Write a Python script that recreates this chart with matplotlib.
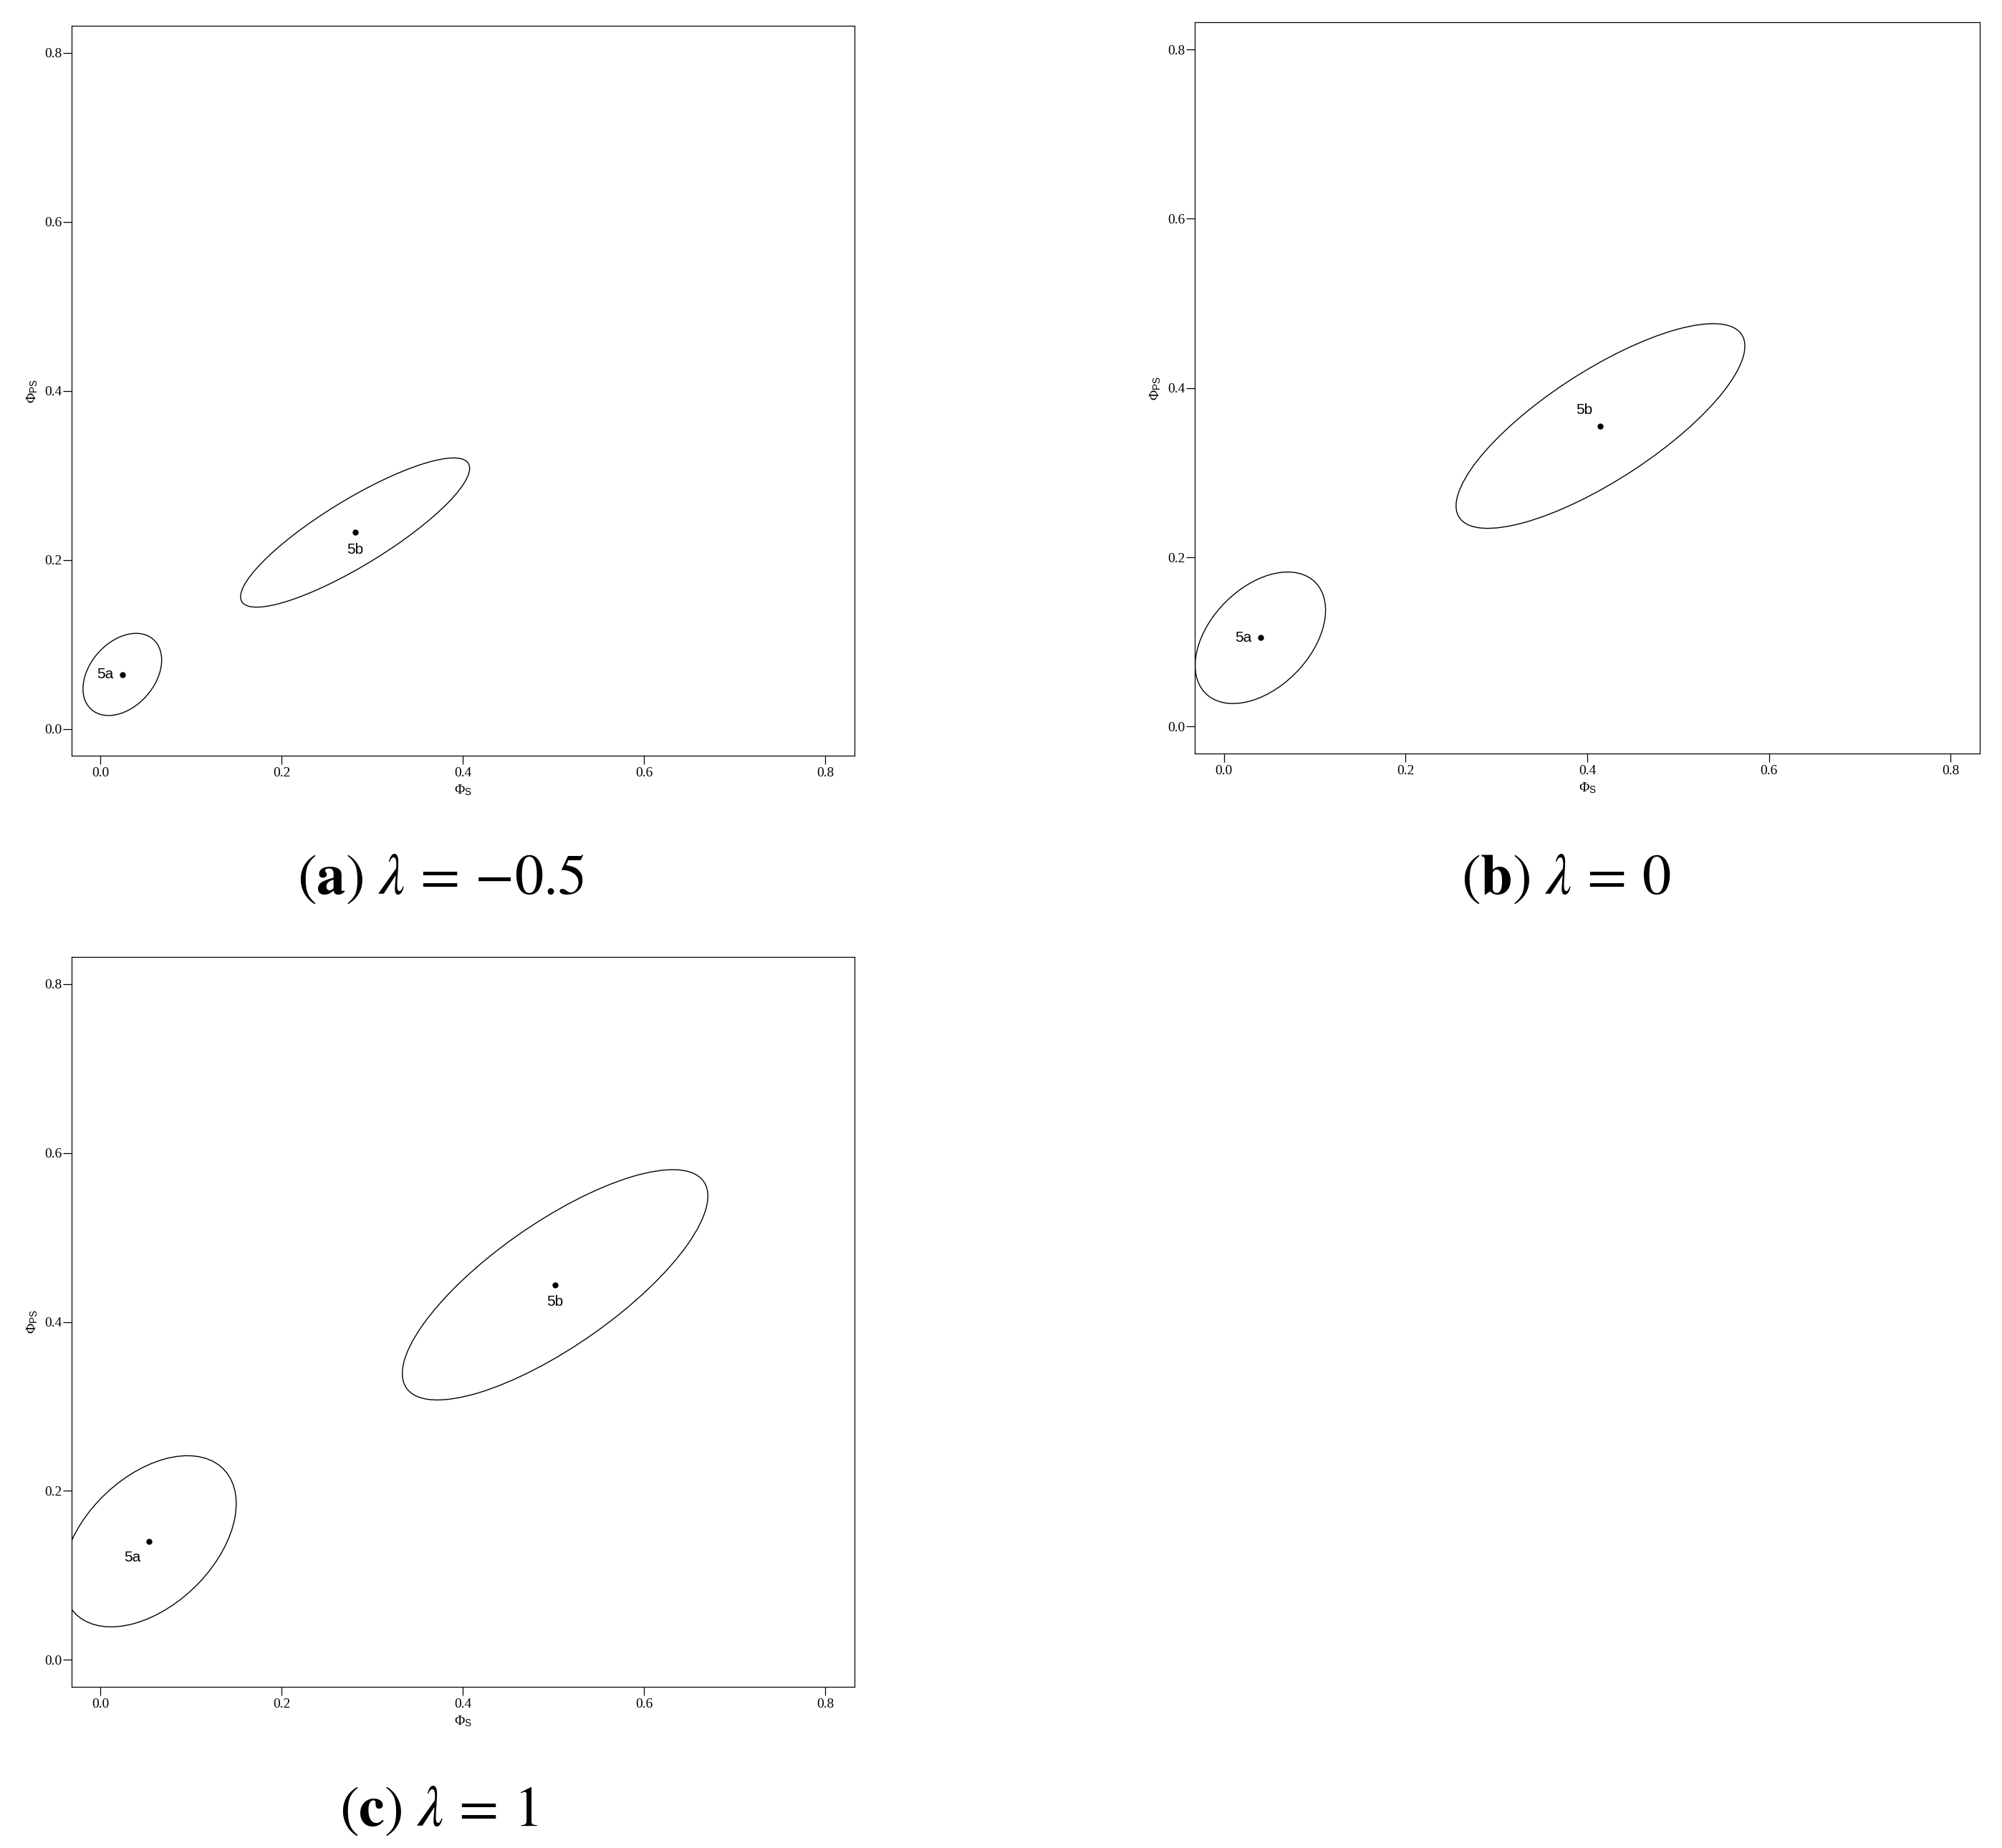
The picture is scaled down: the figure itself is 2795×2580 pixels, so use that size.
import numpy as np
import matplotlib
matplotlib.use("Agg")
import matplotlib.pyplot as plt
from matplotlib.patches import Ellipse

# ---------------- data ----------------
panel_tags = ["a", "b", "c"]
lambda_values = ["-0.5", "0", "1"]
point_labels = ["5a", "5b"]

# centres (Phi_S, Phi_PS) of each point / ellipse, per panel: [5a, 5b]
phi_s = [[0.0241, 0.2810], [0.0400, 0.4145], [0.0539, 0.5017]]
phi_ps = [[0.0644, 0.2323], [0.1050, 0.3552], [0.1403, 0.4439]]
# ellipse half extents along Phi_S and Phi_PS, and correlation
half_s = [[0.0434, 0.1264], [0.0718, 0.1590], [0.0959, 0.1686]]
half_ps = [[0.0486, 0.0883], [0.0777, 0.1209], [0.1013, 0.1363]]
corr = [[0.35, 0.86], [0.42, 0.78], [0.44, 0.77]]

tick_values = [0.0, 0.2, 0.4, 0.6, 0.8]
tick_labels = ["0.0", "0.2", "0.4", "0.6", "0.8"]
axis_range = (0.0, 0.8)

# ---------------- style / layout ----------------
W, H, DPI = 2795, 2580, 100
plt.rcParams["mathtext.fontset"] = "custom"
plt.rcParams["mathtext.rm"] = "Liberation Serif"
plt.rcParams["mathtext.it"] = "Liberation Serif:italic"
plt.rcParams["mathtext.bf"] = "Liberation Serif:bold"
plt.rcParams["mathtext.sf"] = "Liberation Sans"

fig = plt.figure(figsize=(W / DPI, H / DPI), dpi=DPI)

# axes rectangles in pixel coordinates (left, top, right, bottom)
rects_px = [(99.8, 36.0, 1192.8, 1055.3),
            (1668.3, 31.3, 2763.8, 1052.3),
            (99.8, 1336.0, 1192.8, 2355.0)]
caption_px = [(615, 1226), (2186, 1226), (613, 2527)]
# label offsets (points) and alignments for [5a, 5b] per panel
label_off = [[(-8.6, 0), (0, -17.5)],
             [(-8.6, 0), (-16.5, 16.0)],
             [(-17.0, -16.6), (0, -17.0)]]
label_ha = [["right", "center"], ["right", "center"], ["center", "center"]]

pad = 0.04 * (axis_range[1] - axis_range[0])
lim = (axis_range[0] - pad, axis_range[1] + pad)

for i in range(3):
    l, t, r, b = rects_px[i]
    ax = fig.add_axes([l / W, 1 - b / H, (r - l) / W, (b - t) / H])
    ax.set_xlim(*lim)
    ax.set_ylim(*lim)
    for sp in ax.spines.values():
        sp.set_linewidth(0.9)
        sp.set_color("black")
    ax.set_xticks(tick_values)
    ax.set_yticks(tick_values)
    ax.set_xticklabels(tick_labels, fontfamily="Liberation Serif", fontsize=14)
    ax.set_yticklabels(tick_labels, fontfamily="Liberation Serif", fontsize=14)
    ax.tick_params(axis="both", direction="out", length=8.6, width=0.9, color="black")
    ax.tick_params(axis="x", pad=3)
    ax.tick_params(axis="y", pad=1)

    for j in range(2):
        cx, cy = phi_s[i][j], phi_ps[i][j]
        a, bb, rho = half_s[i][j], half_ps[i][j], corr[i][j]
        cov = np.array([[a * a, rho * a * bb], [rho * a * bb, bb * bb]])
        vals, vecs = np.linalg.eigh(cov)
        order = np.argsort(vals)[::-1]
        vals, vecs = vals[order], vecs[:, order]
        angle = np.degrees(np.arctan2(vecs[1, 0], vecs[0, 0]))
        ell = Ellipse((cx, cy), 2 * np.sqrt(vals[0]), 2 * np.sqrt(vals[1]),
                      angle=angle, fill=False, edgecolor="black", linewidth=1.0)
        ax.add_patch(ell)
        ax.plot([cx], [cy], marker="o", ms=5, color="black", linestyle="none")
        dx, dy = label_off[i][j]
        ax.annotate(point_labels[j], (cx, cy), xytext=(dx, dy),
                    textcoords="offset points", ha=label_ha[i][j], va="center",
                    fontfamily="Liberation Sans", fontsize=15)

    ax.set_xlabel(r"$\Phi_{\mathsf{S}}$", fontsize=14)
    ax.set_ylabel(r"$\Phi_{\mathsf{PS}}$", fontsize=14)
    ax.xaxis.set_label_coords(0.5, -47.7 / (b - t))
    ax.xaxis.label.set_va("center")
    ax.yaxis.set_label_coords(-54.8 / (r - l), 0.5)
    ax.yaxis.label.set_va("center")

    cxp, cyp = caption_px[i]
    lam = lambda_values[i]
    if lam.startswith("-"):
        lam = "{-}" + lam[1:]
    fig.text(cxp / W, 1 - cyp / H,
             r"$(\mathbf{%s})\ \lambda\,=\,%s$" % (panel_tags[i], lam),
             ha="center", va="center", fontsize=58, math_fontfamily="stix")

fig.savefig("out.png", dpi=DPI, facecolor="white")
